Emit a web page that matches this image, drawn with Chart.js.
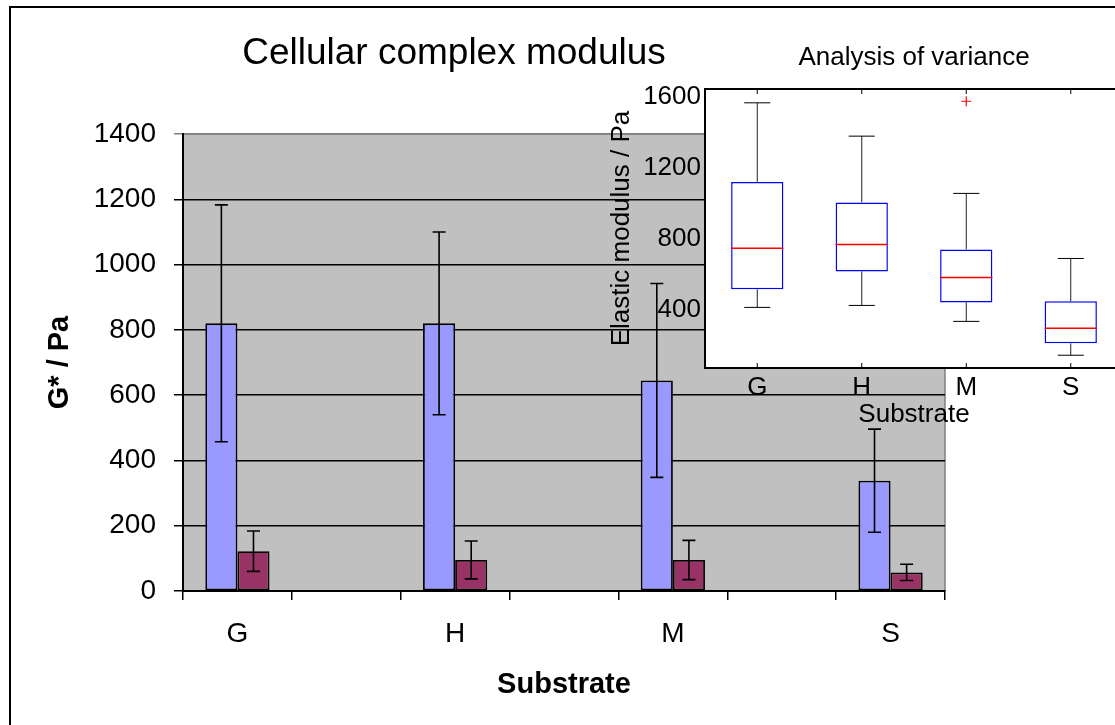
<!DOCTYPE html>
<html>
<head>
<meta charset="utf-8">
<script src="https://cdn.jsdelivr.net/npm/chart.js@4.4.1/dist/chart.umd.min.js"></script>
<style>
  html, body { margin: 0; padding: 0; background: #fff; overflow: hidden; }
  #wrap { position: relative; width: 1115px; height: 725px; overflow: hidden; background: #fff; }
  #frameTop { position: absolute; left: 9px; top: 6px; width: 1106px; height: 2px; background: #000; }
  #frameLeft { position: absolute; left: 9px; top: 6px; width: 2px; height: 719px; background: #000; }
  #mainChart { position: absolute; left: 0; top: 0; }
  #mainTitle { position: absolute; left: 0; top: 30px; width: 908px; text-align: center;
               font: 37px/44px "Liberation Sans", Arial, sans-serif; color: #000; }
  #insetChart { position: absolute; left: 590px; top: 30px; }
</style>
</head>
<body>
<div id="wrap">
  <div id="frameTop"></div>
  <div id="frameLeft"></div>
  <canvas id="mainChart" width="1115" height="725" style="width:1115px;height:725px"></canvas>
  <div id="mainTitle">Cellular complex modulus</div>
  <canvas id="insetChart" width="560" height="410" style="width:560px;height:410px"></canvas>
</div>
<script>
const FONT = '"Liberation Sans", Arial, sans-serif';

// main bar chart
const substrates = ['G', 'H', 'M', 'S'];
const modulusMean = [820, 820, 645, 338];
const modulusErr = [363, 280, 297, 158];
const secondMean = [122, 95, 95, 57];
const secondErr = [62, 58, 60, 25];
const mainYTicks = [0, 200, 400, 600, 800, 1000, 1200, 1400];

// inset box plot
const boxQ1 = [513, 614, 439, 208];
const boxMedian = [744, 766, 580, 293];
const boxQ3 = [1119, 1003, 738, 445];
const whiskerLow = [411, 422, 332, 141];
const whiskerHigh = [1565, 1377, 1054, 687];
const outliers = [null, null, 1574, null];
const insetYTicks = [400, 800, 1200, 1600];

// empty category between each substrate, like the original sheet
const spaced = arr => arr.flatMap((v, i) => i < arr.length - 1 ? [v, null] : [v]);
const mainLabels = spaced(substrates).map(v => v === null ? '' : v);
const plainNumber = v => String(v);

const plotBg = {
  id: 'plotBg',
  beforeDraw(chart, args, opts) {
    const { ctx, chartArea: a } = chart;
    ctx.save();
    ctx.fillStyle = opts.color;
    ctx.fillRect(a.left, a.top, a.width, a.height);
    if (opts.border) {
      ctx.strokeStyle = opts.border;
      ctx.lineWidth = 1.5;
      ctx.strokeRect(a.left, a.top, a.width, a.height);
    }
    ctx.restore();
  }
};

const errorBars = {
  id: 'errorBars',
  afterDatasetsDraw(chart) {
    const ctx = chart.ctx, y = chart.scales.y;
    chart.data.datasets.forEach((ds, i) => {
      if (!ds.errors) return;
      chart.getDatasetMeta(i).data.forEach((bar, j) => {
        const v = ds.data[j], e = ds.errors[j];
        if (v == null || e == null) return;
        const top = y.getPixelForValue(v + e);
        const bot = y.getPixelForValue(v - e);
        ctx.save();
        ctx.strokeStyle = '#000';
        ctx.lineWidth = 1.6;
        ctx.beginPath();
        ctx.moveTo(bar.x, top); ctx.lineTo(bar.x, bot);
        ctx.moveTo(bar.x - 6.5, top); ctx.lineTo(bar.x + 6.5, top);
        ctx.moveTo(bar.x - 6.5, bot); ctx.lineTo(bar.x + 6.5, bot);
        ctx.stroke();
        ctx.restore();
      });
    });
  }
};

const boxWhiskers = {
  id: 'boxWhiskers',
  afterDatasetsDraw(chart) {
    const { ctx, chartArea: a, scales: { y } } = chart;
    const boxes = chart.getDatasetMeta(0).data;
    ctx.save();
    boxes.forEach((bar, i) => {
      const cx = bar.x, cap = bar.width / 4;
      ctx.strokeStyle = '#222';
      ctx.lineWidth = 1;
      ctx.beginPath();
      ctx.moveTo(cx, y.getPixelForValue(boxQ3[i])); ctx.lineTo(cx, y.getPixelForValue(whiskerHigh[i]));
      ctx.moveTo(cx, y.getPixelForValue(boxQ1[i])); ctx.lineTo(cx, y.getPixelForValue(whiskerLow[i]));
      ctx.stroke();
      ctx.strokeStyle = '#000';
      ctx.beginPath();
      ctx.moveTo(cx - cap, y.getPixelForValue(whiskerHigh[i])); ctx.lineTo(cx + cap, y.getPixelForValue(whiskerHigh[i]));
      ctx.moveTo(cx - cap, y.getPixelForValue(whiskerLow[i])); ctx.lineTo(cx + cap, y.getPixelForValue(whiskerLow[i]));
      ctx.stroke();
      ctx.strokeStyle = '#ff0000';
      ctx.lineWidth = 1.5;
      ctx.beginPath();
      const my = y.getPixelForValue(boxMedian[i]);
      ctx.moveTo(cx - bar.width / 2, my); ctx.lineTo(cx + bar.width / 2, my);
      ctx.stroke();
      // little inside ticks at top and bottom
      ctx.strokeStyle = '#000';
      ctx.lineWidth = 1;
      ctx.beginPath();
      ctx.moveTo(cx, a.top); ctx.lineTo(cx, a.top + 5);
      ctx.moveTo(cx, a.bottom); ctx.lineTo(cx, a.bottom - 5);
      ctx.stroke();
    });
    ctx.strokeStyle = '#000';
    ctx.lineWidth = 2;
    ctx.strokeRect(a.left, a.top, a.width, a.height);
    ctx.restore();
  }
};

new Chart(document.getElementById('mainChart'), {
  type: 'bar',
  data: {
    labels: mainLabels,
    datasets: [
      {
        label: 'G*',
        data: spaced(modulusMean),
        errors: spaced(modulusErr),
        backgroundColor: '#9999ff',
        borderColor: '#000',
        borderWidth: 1.8,
        borderSkipped: false
      },
      {
        label: 'G* (second)',
        data: spaced(secondMean),
        errors: spaced(secondErr),
        backgroundColor: '#993366',
        borderColor: '#000',
        borderWidth: 1.8,
        borderSkipped: false
      }
    ]
  },
  plugins: [plotBg, errorBars],
  options: {
    responsive: false,
    animation: false,
    devicePixelRatio: 1,
    layout: { padding: { left: 0, top: 134, right: 170, bottom: 0 } },
    datasets: { bar: { categoryPercentage: 0.59, barPercentage: 1 } },
    plugins: {
      legend: { display: false },
      tooltip: { enabled: false },
      plotBg: { color: '#c0c0c0', border: '#808080' }
    },
    scales: {
      x: {
        grid: { display: true, drawOnChartArea: false, drawTicks: true, tickLength: 9, color: '#000', lineWidth: 1.5, offset: true },
        border: { color: '#000', width: 2 },
        ticks: { color: '#000', font: { family: FONT, size: 28 }, padding: 17, autoSkip: false, maxRotation: 0 },
        title: { display: true, text: 'Substrate', color: '#000', font: { family: FONT, size: 29, weight: 'bold' }, padding: { top: 0, bottom: 22.6 } },
        afterFit: s => { s.height = 134; }
      },
      y: {
        min: 0,
        max: 1400,
        afterBuildTicks: s => { s.ticks = mainYTicks.map(v => ({ value: v })); },
        grid: { color: c => (c.tick && c.tick.value === 1400 ? '#808080' : '#000'), lineWidth: 1.5, tickLength: 9 },
        border: { color: '#000', width: 2 },
        ticks: { color: '#000', font: { family: FONT, size: 28 }, padding: 18, callback: plainNumber },
        title: { display: true, text: 'G* / Pa', color: '#000', font: { family: FONT, size: 29, weight: 'bold' }, padding: { top: 42.6, bottom: 0 } },
        afterFit: s => { s.width = 183; }
      }
    }
  }
});

new Chart(document.getElementById('insetChart'), {
  type: 'bar',
  data: {
    labels: substrates,
    datasets: [
      {
        label: 'Interquartile range',
        data: substrates.map((s, i) => [boxQ1[i], boxQ3[i]]),
        backgroundColor: '#fff',
        borderColor: '#0000ff',
        borderWidth: 1.5,
        borderSkipped: false,
        barPercentage: 0.5,
        categoryPercentage: 1
      },
      {
        type: 'line',
        label: 'Outliers',
        data: outliers,
        showLine: false,
        pointStyle: 'cross',
        pointRadius: 5,
        borderColor: '#ff0000',
        borderWidth: 1.2
      }
    ]
  },
  plugins: [plotBg, boxWhiskers],
  options: {
    responsive: false,
    animation: false,
    devicePixelRatio: 1,
    layout: { padding: { left: 0, right: 27, top: 0, bottom: 0 } },
    plugins: {
      legend: { display: false },
      tooltip: { enabled: false },
      plotBg: { color: '#fff' },
      title: {
        display: true,
        text: 'Analysis of variance',
        fullSize: false,
        color: '#000',
        font: { family: FONT, size: 26, weight: 'normal' },
        padding: { top: 12.4, bottom: 15.4 }
      }
    },
    scales: {
      x: {
        grid: { display: false, drawTicks: false },
        border: { display: false },
        ticks: { color: '#000', font: { family: FONT, size: 26 }, padding: 4.4 },
        title: { display: true, text: 'Substrate', color: '#000', font: { family: FONT, size: 26 }, padding: { top: 0, bottom: 9.4 } },
        afterFit: s => { s.height = 72; }
      },
      y: {
        min: 69,
        max: 1643,
        afterBuildTicks: s => { s.ticks = insetYTicks.map(v => ({ value: v })); },
        grid: { display: false, drawTicks: false },
        border: { display: false },
        ticks: { color: '#000', font: { family: FONT, size: 26 }, padding: 4, callback: plainNumber },
        title: { display: true, text: 'Elastic modulus / Pa', color: '#000', font: { family: FONT, size: 26 }, padding: { top: 16.4, bottom: 0 } },
        afterFit: s => { s.width = 115; }
      }
    }
  }
});
</script>
</body>
</html>
